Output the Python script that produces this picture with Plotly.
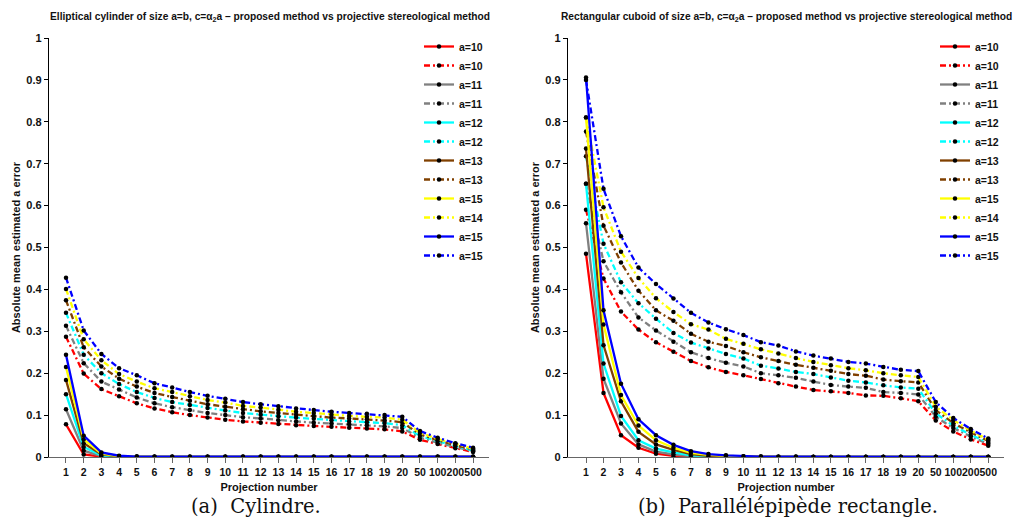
import plotly.graph_objects as go

categories = ["1","2","3","4","5","6","7","8","9","10","11","12","13","14","15","16","17","18","19","20","50","100","200","500"]
yticks = [0,0.1,0.2,0.3,0.4,0.5,0.6,0.7,0.8,0.9,1]
ytick_labels = ["0","0.1","0.2","0.3","0.4","0.5","0.6","0.7","0.8","0.9","1"]

series_colors = ["#ff0000", "#808080", "#00ffff", "#804000", "#ffff00", "#0000ff"]
solid_names = ["a=10", "a=11", "a=12", "a=13", "a=15", "a=15"]
dashed_names = ["a=10", "a=11", "a=12", "a=13", "a=14", "a=15"]

# Left chart: elliptical cylinder
cyl_solid = [
    [0.078,0.006,0.001,0,0,0,0,0,0,0,0,0,0,0,0,0,0,0,0,0,0,0,0,0],
    [0.114,0.015,0.002,0.0005,0,0,0,0,0,0,0,0,0,0,0,0,0,0,0,0,0,0,0,0],
    [0.150,0.024,0.004,0.001,0,0,0,0,0,0,0,0,0,0,0,0,0,0,0,0,0,0,0,0],
    [0.184,0.033,0.006,0.0015,0.0005,0,0,0,0,0,0,0,0,0,0,0,0,0,0,0,0,0,0,0],
    [0.215,0.042,0.008,0.002,0.001,0.0005,0,0,0,0,0,0,0,0,0,0,0,0,0,0,0,0,0,0],
    [0.244,0.051,0.011,0.003,0.001,0.001,0.001,0.001,0.001,0.001,0.001,0.001,0.001,0.001,0.001,0.001,0.001,0.001,0.001,0.001,0.001,0.001,0.001,0.001],
]
cyl_dashed = [
    [0.287,0.199,0.162,0.145,0.128,0.116,0.107,0.100,0.094,0.089,0.085,0.082,0.079,0.076,0.074,0.072,0.070,0.068,0.066,0.061,0.041,0.031,0.021,0.012],
    [0.313,0.224,0.180,0.161,0.142,0.128,0.119,0.112,0.105,0.100,0.095,0.092,0.088,0.085,0.082,0.080,0.078,0.076,0.073,0.069,0.046,0.034,0.024,0.014],
    [0.344,0.244,0.200,0.174,0.155,0.141,0.131,0.124,0.117,0.111,0.105,0.101,0.097,0.094,0.091,0.088,0.085,0.083,0.081,0.076,0.050,0.038,0.026,0.016],
    [0.374,0.262,0.216,0.187,0.168,0.153,0.143,0.134,0.126,0.120,0.114,0.109,0.105,0.101,0.098,0.094,0.092,0.090,0.087,0.083,0.054,0.040,0.028,0.018],
    [0.401,0.281,0.231,0.198,0.180,0.164,0.155,0.145,0.136,0.130,0.122,0.118,0.113,0.108,0.105,0.101,0.098,0.096,0.094,0.089,0.058,0.043,0.031,0.020],
    [0.428,0.302,0.246,0.212,0.195,0.176,0.166,0.155,0.146,0.139,0.131,0.126,0.121,0.116,0.112,0.108,0.105,0.103,0.100,0.096,0.062,0.046,0.033,0.022],
]

# Right chart: rectangular cuboid
cub_solid = [
    [0.485,0.153,0.052,0.022,0.008,0.003,0.001,0,0,0,0,0,0,0,0,0,0,0,0,0,0,0,0,0],
    [0.558,0.187,0.080,0.030,0.013,0.006,0.002,0.001,0,0,0,0,0,0,0,0,0,0,0,0,0,0,0,0],
    [0.652,0.223,0.098,0.040,0.020,0.011,0.004,0.002,0.001,0,0,0,0,0,0,0,0,0,0,0,0,0,0,0],
    [0.736,0.267,0.133,0.060,0.030,0.017,0.007,0.003,0.002,0.001,0,0,0,0,0,0,0,0,0,0,0,0,0,0],
    [0.810,0.316,0.148,0.075,0.040,0.022,0.010,0.005,0.003,0.001,0.001,0,0,0,0,0,0,0,0,0,0,0,0,0],
    [0.906,0.350,0.175,0.090,0.052,0.029,0.014,0.007,0.004,0.002,0.001,0.001,0.001,0.0005,0.0005,0.0005,0.0005,0.0005,0.0005,0.0005,0.0005,0.0005,0.0005,0.0005],
]
cub_dashed = [
    [0.590,0.426,0.347,0.304,0.274,0.251,0.229,0.214,0.203,0.195,0.186,0.176,0.168,0.160,0.157,0.153,0.147,0.146,0.140,0.133,0.087,0.061,0.042,0.027],
    [0.652,0.467,0.393,0.333,0.302,0.275,0.250,0.236,0.225,0.216,0.200,0.195,0.189,0.180,0.172,0.168,0.165,0.155,0.153,0.149,0.096,0.069,0.049,0.031],
    [0.718,0.509,0.417,0.367,0.330,0.296,0.273,0.259,0.246,0.235,0.218,0.211,0.203,0.198,0.190,0.182,0.178,0.171,0.166,0.163,0.104,0.075,0.053,0.034],
    [0.777,0.552,0.464,0.397,0.350,0.325,0.294,0.275,0.265,0.250,0.238,0.229,0.220,0.213,0.206,0.198,0.194,0.185,0.181,0.178,0.112,0.081,0.059,0.038],
    [0.810,0.596,0.490,0.427,0.379,0.346,0.317,0.304,0.282,0.270,0.257,0.247,0.236,0.227,0.219,0.212,0.207,0.200,0.195,0.191,0.120,0.088,0.063,0.041],
    [0.900,0.640,0.527,0.452,0.413,0.378,0.344,0.321,0.305,0.291,0.274,0.266,0.252,0.242,0.235,0.227,0.223,0.215,0.208,0.205,0.131,0.093,0.067,0.044],
]

title_left = "Elliptical cylinder of size a=b, c=α<sub>2</sub>a – proposed method vs projective stereological method"
title_right = "Rectangular cuboid of size a=b, c=α<sub>2</sub>a – proposed method vs projective stereological method"
caption_left = "(a)  Cylindre."
caption_right = "(b)  Parallélépipède rectangle."
x_title = "Projection number"
y_title = "Absolute mean estimated a error"

SANS = "Liberation Sans, Arial, sans-serif"
DASH = "6px,3px,2px,3px"

# The page body has an 8px margin, so the figure is drawn 8px in from the window edge.
OFF = 8
W, H = 1022 - OFF, 520 - OFF

def px(x):
    return (x - OFF) / W

def py(y):
    return 1 - (y - OFF) / H

fig = go.Figure()

def add_panel(solid, dashed, xa, ya, legend):
    for i, col in enumerate(series_colors):
        fig.add_trace(go.Scatter(
            x=categories, y=solid[i], name=solid_names[i], mode="lines+markers",
            line=dict(color=col, width=2.3), marker=dict(color="black", size=4.5),
            xaxis=xa, yaxis=ya, legend=legend))
        fig.add_trace(go.Scatter(
            x=categories, y=dashed[i], name=dashed_names[i], mode="lines+markers",
            line=dict(color=col, width=2.3, dash=DASH), marker=dict(color="black", size=4.5),
            xaxis=xa, yaxis=ya, legend=legend))

add_panel(cyl_solid, cyl_dashed, "x", "y", "legend")
add_panel(cub_solid, cub_dashed, "x2", "y2", "legend2")

tickfont = dict(family=SANS, size=10.5, color="#111", weight="bold")
titlefont = dict(family=SANS, size=11, color="#111", weight="bold")

def xaxis_cfg(l, r, rng, anchor):
    return dict(domain=[px(l), px(r)], range=rng, type="category", categoryorder="array",
                categoryarray=categories, showline=True, linecolor="#666", linewidth=1,
                ticks="outside", ticklen=5, tickcolor="#666", tickfont=tickfont, tickangle=0,
                showgrid=False, zeroline=False, anchor=anchor,
                title=dict(text=x_title, font=titlefont, standoff=6))

def yaxis_cfg(anchor):
    return dict(domain=[py(457), py(38)], range=[0, 1], tickvals=yticks, ticktext=ytick_labels,
                showline=True, linecolor="black", linewidth=1.3, ticks="outside", ticklen=4,
                tickcolor="black", tickfont=dict(family=SANS, size=11, color="#111", weight="bold"),
                showgrid=False, zeroline=False, anchor=anchor,
                title=dict(text=y_title, font=titlefont, standoff=3))

legfont = dict(family=SANS, size=10.5, color="#111", weight="bold")

fig.update_layout(
    width=W, height=H, margin=dict(l=0, r=0, t=0, b=0, autoexpand=False),
    paper_bgcolor="white", plot_bgcolor="white",
    xaxis=xaxis_cfg(49, 489, [-0.96, 23.9], "y"),
    yaxis=yaxis_cfg("x"),
    xaxis2=xaxis_cfg(568, 1004, [-1.03, 23.9], "y2"),
    yaxis2=yaxis_cfg("x2"),
    legend=dict(x=px(419), y=py(32), xanchor="left", yanchor="top", bgcolor="rgba(0,0,0,0)",
                font=legfont, tracegroupgap=0, itemwidth=30),
    legend2=dict(x=px(935), y=py(32), xanchor="left", yanchor="top", bgcolor="rgba(0,0,0,0)",
                 font=legfont, tracegroupgap=0, itemwidth=30),
    showlegend=True,
)

for t, cx in [(title_left, 270), (title_right, 786)]:
    fig.add_annotation(text=t, x=px(cx), y=py(17), xref="paper", yref="paper",
                       showarrow=False, font=dict(family=SANS, size=10.2, color="#111", weight="bold"),
                       xanchor="center", yanchor="middle")

for t, cx in [(caption_left, 256), (caption_right, 788)]:
    fig.add_annotation(text=t, x=px(cx), y=py(506), xref="paper", yref="paper",
                       showarrow=False, font=dict(family="DejaVu Serif, Liberation Serif, serif", size=19.5, color="#111"),
                       xanchor="center", yanchor="middle")

fig.write_html("out.html")
